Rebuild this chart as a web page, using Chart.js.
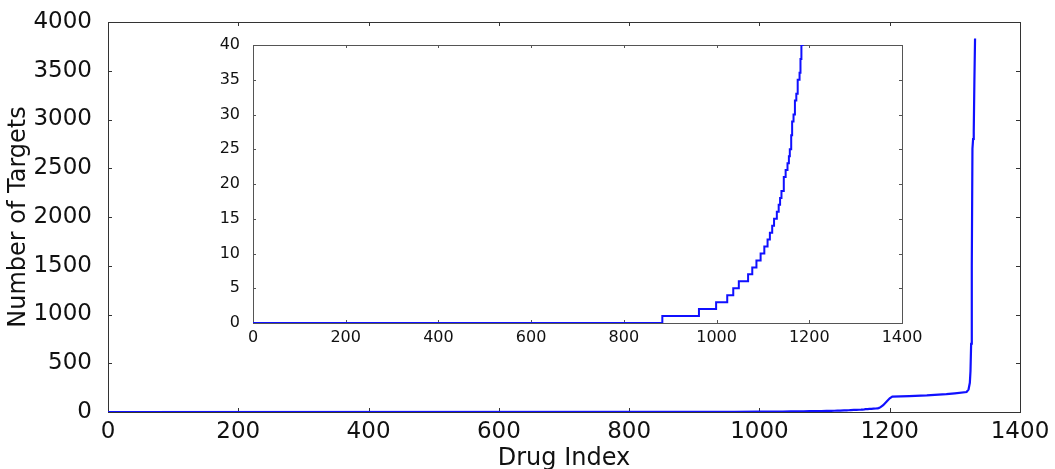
<!DOCTYPE html>
<html>
<head>
<meta charset="utf-8">
<script src="https://cdn.jsdelivr.net/npm/chart.js@4/dist/chart.umd.min.js"></script>
<style>
  body { margin: 0; background: #fff; }
  #wrap { position: relative; width: 1055px; height: 469px; }
  #main { position: absolute; left: 0; top: 0; }
  #inset { position: absolute; left: 200px; top: 25px; }
</style>
</head>
<body>
<div id="wrap">
  <canvas id="main" width="1055" height="469"></canvas>
  <canvas id="inset" width="730" height="325"></canvas>
</div>
<script>
// drugs sorted by number of targets; points where the count changes
const drugIndex = [0, 883, 962, 999, 1023, 1036, 1048, 1068, 1077, 1086, 1095, 1103, 1110, 1115, 1120, 1124,
  1130, 1134, 1137, 1140, 1145, 1149, 1153, 1156, 1158, 1161, 1163, 1166, 1169, 1172, 1175, 1179, 1181, 1183,
  1186, 1190, 1195, 1200, 1204, 1230, 1257, 1287, 1300, 1318, 1321, 1323, 1324, 1325, 1326, 1327, 1328, 1329, 1330, 1331];
const targetCount = [0, 1, 2, 3, 4, 5, 6, 7, 8, 9, 10, 11, 12, 13, 14, 15,
  16, 17, 18, 19, 21, 22, 23, 24, 25, 27, 29, 30, 32, 33, 35, 36, 38, 40,
  50, 70, 105, 140, 157, 163, 170, 184, 192, 205, 230, 300, 420, 700, 1500, 2700, 2800, 2880, 3400, 3830];

const mainXTicks = [0, 200, 400, 600, 800, 1000, 1200, 1400];
const mainYTicks = [0, 500, 1000, 1500, 2000, 2500, 3000, 3500, 4000];
const insetXTicks = [0, 200, 400, 600, 800, 1000, 1200, 1400];
const insetYTicks = [0, 5, 10, 15, 20, 25, 30, 35, 40];

const points = drugIndex.map((d, i) => ({ x: d, y: targetCount[i] }));
const FONT = "'DejaVu Sans', sans-serif";

// matplotlib style box with inward ticks on all four sides
const frameTicks = {
  id: 'frameTicks',
  beforeDatasetsDraw(chart, args, opts) {
    const { ctx, chartArea: a, scales: { x, y } } = chart;
    ctx.save();
    if (opts.fill) {
      ctx.fillStyle = '#fff';
      ctx.fillRect(a.left, a.top, a.right - a.left, a.bottom - a.top);
    }
    ctx.strokeStyle = opts.color;
    ctx.lineWidth = 1;
    ctx.beginPath();
    x.ticks.forEach(t => {
      const px = Math.round(x.getPixelForValue(t.value)) + 0.5;
      ctx.moveTo(px, a.bottom); ctx.lineTo(px, a.bottom - opts.len);
      ctx.moveTo(px, a.top); ctx.lineTo(px, a.top + opts.len);
    });
    y.ticks.forEach(t => {
      const py = Math.round(y.getPixelForValue(t.value)) + 0.5;
      ctx.moveTo(a.left, py); ctx.lineTo(a.left + opts.len, py);
      ctx.moveTo(a.right, py); ctx.lineTo(a.right - opts.len, py);
    });
    ctx.stroke();
    ctx.strokeRect(Math.round(a.left) + 0.5, Math.round(a.top) + 0.5,
      Math.round(a.right - a.left), Math.round(a.bottom - a.top));
    ctx.restore();
  }
};

function tickList(arr) {
  return function (scale) { scale.ticks = arr.map(v => ({ value: v })); };
}
const plain = v => String(v);

new Chart(document.getElementById('main'), {
  type: 'line',
  data: { datasets: [{ data: points, borderColor: '#1010ff', borderWidth: 2.2, pointRadius: 0, stepped: false }] },
  plugins: [frameTicks],
  options: {
    responsive: false,
    animation: false,
    layout: { padding: { top: 22, right: 35, left: 0, bottom: 0 } },
    plugins: { legend: { display: false }, tooltip: { enabled: false },
      frameTicks: { color: '#333', len: 4, fill: false } },
    scales: {
      x: {
        type: 'linear', min: 0, max: 1400,
        afterBuildTicks: tickList(mainXTicks),
        afterFit(s) { s.height = 57; },
        grid: { display: false }, border: { display: false },
        ticks: { padding: -2, color: '#111', font: { family: FONT, size: 23 }, maxRotation: 0, callback: plain },
        title: { display: true, text: 'Drug Index', color: '#111', padding: 0,
          font: { family: FONT, size: 24, lineHeight: 0.85 } }
      },
      y: {
        type: 'linear', min: 0, max: 4000,
        afterBuildTicks: tickList(mainYTicks),
        afterFit(s) { s.width = 108; },
        grid: { display: false }, border: { display: false },
        ticks: { padding: 8, color: '#111', font: { family: FONT, size: 23 }, callback: plain },
        title: { display: true, text: 'Number of Targets', color: '#111', padding: { top: 7 },
          font: { family: FONT, size: 24, lineHeight: 1 } }
      }
    }
  }
});

new Chart(document.getElementById('inset'), {
  type: 'line',
  data: { datasets: [{ data: points, borderColor: '#1010ff', borderWidth: 2, pointRadius: 0, stepped: true }] },
  plugins: [frameTicks],
  options: {
    responsive: false,
    animation: false,
    layout: { padding: { top: 20, right: 28, left: 0, bottom: 0 } },
    plugins: { legend: { display: false }, tooltip: { enabled: false },
      frameTicks: { color: '#555', len: 3, fill: true } },
    scales: {
      x: {
        type: 'linear', min: 0, max: 1400,
        afterBuildTicks: tickList(insetXTicks),
        afterFit(s) { s.height = 27; },
        grid: { display: false }, border: { display: false },
        ticks: { padding: -3, color: '#111', font: { family: FONT, size: 16 }, maxRotation: 0, callback: plain }
      },
      y: {
        type: 'linear', min: 0, max: 40,
        afterBuildTicks: tickList(insetYTicks),
        afterFit(s) { s.width = 53; },
        grid: { display: false }, border: { display: false },
        ticks: { padding: 5, color: '#111', font: { family: FONT, size: 16 }, callback: plain }
      }
    }
  }
});
</script>
</body>
</html>
